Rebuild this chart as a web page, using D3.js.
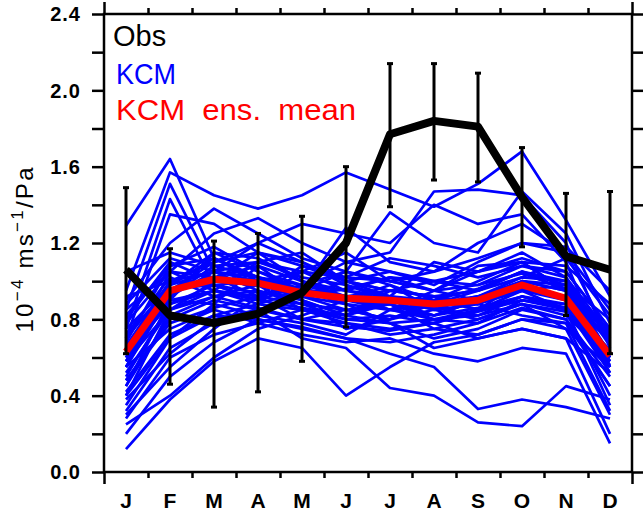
<!DOCTYPE html>
<html>
<head>
<meta charset="utf-8">
<script src="https://cdn.jsdelivr.net/npm/d3@7"></script>
<style>
  html, body { margin: 0; padding: 0; background: #fff; }
  svg { display: block; }
  text { font-family: "Liberation Sans", Arial, Helvetica, sans-serif; }
</style>
</head>
<body>
<svg id="chart" width="643" height="515"></svg>
<script>
// Month labels along the x axis
const months = ["J", "F", "M", "A", "M", "J", "J", "A", "S", "O", "N", "D"];

// Y-axis tick values
const yMajorTicks = [0.0, 0.4, 0.8, 1.2, 1.6, 2.0, 2.4];
const yMinorTicks = [0.2, 0.6, 1.0, 1.4, 1.8, 2.2];

// Observed monthly values and their uncertainty range
const obsValues = [1.06, 0.82, 0.78, 0.83, 0.94, 1.20, 1.77, 1.84, 1.81, 1.44, 1.13, 1.06];
const obsLow    = [0.62, 0.46, 0.34, 0.42, 0.58, 0.76, 1.39, 1.53, 1.52, 1.18, 0.82, 0.62];
const obsHigh   = [1.49, 1.17, 1.21, 1.25, 1.34, 1.60, 2.14, 2.14, 2.09, 1.70, 1.46, 1.47];

// KCM ensemble mean
const ensMean = [0.63, 0.95, 1.01, 0.99, 0.94, 0.91, 0.90, 0.88, 0.90, 0.98, 0.91, 0.61];

// Individual KCM ensemble members (J..D)
const kcmMembers = [
  [1.29, 1.64, 1.12, 1.02, 0.98, 0.95, 0.92, 0.90, 0.96, 1.05, 0.98, 0.70],
  [0.95, 1.57, 1.45, 1.38, 1.45, 1.57, 1.48, 1.39, 1.51, 1.68, 1.32, 0.92],
  [0.85, 1.51, 1.05, 1.20, 1.10, 1.00, 1.05, 0.98, 1.10, 1.20, 1.15, 0.85],
  [0.75, 1.43, 0.98, 0.90, 1.05, 1.15, 1.00, 0.95, 1.05, 1.12, 1.05, 0.75],
  [0.70, 1.35, 1.30, 1.15, 1.00, 0.90, 0.98, 0.85, 0.92, 1.02, 1.00, 0.70],
  [0.90, 1.20, 1.38, 1.25, 1.12, 1.05, 1.36, 1.20, 1.15, 1.47, 1.25, 0.78],
  [0.60, 1.05, 1.25, 1.33, 1.20, 1.10, 1.15, 1.47, 1.48, 1.45, 1.20, 0.65],
  [0.55, 0.95, 1.10, 1.20, 1.30, 1.25, 1.20, 1.40, 1.30, 1.35, 1.10, 0.55],
  [0.45, 0.90, 1.15, 1.05, 0.95, 1.28, 1.10, 1.05, 1.20, 1.30, 1.15, 0.70],
  [0.40, 0.85, 0.95, 1.10, 1.15, 1.00, 0.92, 1.10, 1.05, 1.10, 0.95, 0.60],
  [0.65, 1.00, 1.05, 0.95, 0.88, 0.85, 0.80, 0.90, 0.85, 1.00, 0.98, 0.62],
  [0.80, 1.10, 1.00, 0.98, 0.92, 0.88, 0.85, 0.82, 0.90, 0.95, 0.92, 0.68],
  [0.58, 0.92, 1.08, 1.02, 0.95, 0.90, 0.88, 0.80, 0.82, 0.92, 0.85, 0.58],
  [0.50, 0.88, 0.98, 1.00, 1.05, 0.95, 0.90, 0.85, 0.88, 0.98, 0.90, 0.52],
  [0.72, 1.02, 0.92, 0.95, 0.90, 0.82, 0.95, 0.92, 0.85, 0.90, 0.88, 0.64],
  [0.35, 0.70, 0.88, 1.08, 0.92, 0.85, 0.80, 0.88, 0.95, 1.05, 0.95, 0.55],
  [0.62, 0.98, 1.15, 1.12, 1.00, 0.95, 1.02, 0.95, 0.98, 1.08, 1.02, 0.72],
  [0.68, 1.08, 1.18, 1.05, 0.98, 0.92, 0.85, 0.92, 0.88, 0.95, 0.85, 0.55],
  [0.48, 0.80, 0.90, 0.85, 0.80, 0.78, 0.72, 0.75, 0.80, 0.88, 0.82, 0.60],
  [0.30, 0.55, 0.75, 0.92, 0.88, 0.80, 0.78, 0.70, 0.75, 0.85, 0.80, 0.50],
  [0.25, 0.40, 0.60, 0.75, 0.82, 0.90, 0.85, 0.80, 0.78, 0.90, 0.85, 0.35],
  [0.12, 0.38, 0.58, 0.70, 0.65, 0.40, 0.55, 0.68, 0.72, 0.80, 0.75, 0.30],
  [0.20, 0.50, 0.68, 0.80, 0.75, 0.70, 0.62, 0.55, 0.33, 0.38, 0.34, 0.28],
  [0.38, 0.62, 0.80, 0.85, 0.70, 0.65, 0.44, 0.40, 0.26, 0.24, 0.45, 0.38],
  [0.55, 0.75, 0.85, 0.78, 0.72, 0.68, 0.70, 0.62, 0.58, 0.65, 0.62, 0.15],
  [0.65, 0.90, 0.95, 0.88, 0.85, 0.78, 0.75, 0.78, 0.70, 0.75, 0.70, 0.20],
  [0.78, 1.05, 1.02, 0.92, 0.80, 0.85, 0.88, 0.75, 0.72, 0.80, 0.78, 0.45],
  [0.88, 1.12, 1.05, 1.00, 0.95, 1.05, 0.98, 0.90, 1.00, 1.10, 1.08, 0.88],
  [1.05, 1.15, 1.08, 1.10, 1.05, 1.02, 1.00, 1.05, 1.12, 1.20, 1.18, 0.95],
  [0.92, 1.00, 0.98, 0.90, 0.98, 1.10, 1.05, 1.00, 0.95, 1.02, 1.12, 0.82],
  [0.58, 0.95, 1.02, 1.08, 1.00, 0.92, 0.95, 1.00, 1.05, 1.15, 1.02, 0.60],
  [0.45, 0.82, 0.92, 0.98, 0.85, 0.80, 0.82, 0.78, 0.85, 0.92, 0.88, 0.58],
  [0.70, 0.98, 1.12, 1.00, 0.90, 0.75, 0.80, 0.85, 0.80, 0.88, 0.75, 0.55],
  [0.42, 0.72, 0.82, 0.88, 0.95, 0.88, 0.78, 0.65, 0.70, 0.75, 0.70, 0.52],
  [0.60, 0.90, 0.88, 0.82, 0.78, 0.72, 0.85, 0.88, 0.92, 0.95, 0.90, 0.62],
  [0.52, 0.85, 1.00, 1.15, 1.10, 0.98, 0.90, 0.82, 0.90, 1.00, 0.95, 0.58],
  [0.85, 1.05, 0.95, 0.92, 1.08, 1.02, 1.12, 1.08, 1.02, 1.08, 1.05, 0.75],
  [0.32, 0.65, 0.78, 0.85, 0.92, 1.00, 0.95, 0.92, 0.88, 0.82, 0.78, 0.32],
  [0.75, 0.98, 1.05, 1.02, 0.96, 0.92, 0.85, 0.95, 1.08, 1.10, 0.95, 0.68],
  [0.62, 0.88, 0.95, 0.90, 0.86, 0.82, 0.88, 0.82, 0.86, 0.92, 0.86, 0.52],
  [0.55, 0.92, 1.05, 1.10, 1.02, 0.98, 0.92, 0.88, 0.92, 1.00, 0.95, 0.62],
  [0.48, 0.78, 0.86, 0.92, 0.98, 1.05, 1.00, 0.95, 0.90, 0.96, 0.92, 0.70],
  [0.82, 1.08, 1.12, 1.02, 0.90, 0.82, 0.78, 0.80, 0.85, 0.95, 0.98, 0.80],
  [0.40, 0.70, 0.82, 0.80, 0.76, 0.70, 0.68, 0.72, 0.78, 0.86, 0.80, 0.45],
  [0.66, 1.00, 1.10, 1.15, 1.08, 1.00, 0.95, 0.92, 0.95, 1.05, 1.00, 0.66],
  [0.28, 0.60, 0.72, 0.78, 0.85, 0.82, 0.90, 0.86, 0.82, 0.88, 0.84, 0.40],
  [0.72, 0.96, 0.98, 0.94, 0.92, 0.96, 1.02, 1.00, 0.98, 1.04, 0.96, 0.74],
  [0.58, 0.85, 0.92, 0.86, 0.80, 0.76, 0.74, 0.78, 0.84, 0.90, 0.86, 0.56]
];

const svg = d3.select("#chart");
const plot = { left: 104, right: 632, top: 14, bottom: 472 };

const x = d3.scaleLinear().domain([-0.5, 11.5]).range([plot.left, plot.right]);
const y = d3.scaleLinear().domain([0, 2.4]).range([plot.bottom, plot.top]);

const line = d3.line().x((d, i) => x(i)).y(d => y(d));

// Ensemble members
svg.append("g")
  .selectAll("path")
  .data(kcmMembers)
  .join("path")
  .attr("d", line)
  .attr("fill", "none")
  .attr("stroke", "#0000ff")
  .attr("stroke-width", 2.7)
  .attr("stroke-linejoin", "round");

// Ensemble mean
svg.append("path")
  .attr("d", line(ensMean))
  .attr("fill", "none")
  .attr("stroke", "#ff0000")
  .attr("stroke-width", 7)
  .attr("stroke-linejoin", "round");

// Observed error bars
const bars = svg.append("g").attr("stroke", "#000").attr("stroke-width", 3);
months.forEach((m, i) => {
  bars.append("line")
    .attr("x1", x(i)).attr("x2", x(i))
    .attr("y1", y(obsLow[i])).attr("y2", y(obsHigh[i]));
  [obsLow[i], obsHigh[i]].forEach(v => {
    bars.append("line")
      .attr("x1", x(i) - 3).attr("x2", x(i) + 3)
      .attr("y1", y(v)).attr("y2", y(v));
  });
});

// Observed curve
svg.append("path")
  .attr("d", line(obsValues))
  .attr("fill", "none")
  .attr("stroke", "#000")
  .attr("stroke-width", 8)
  .attr("stroke-linejoin", "round");

// Frame
svg.append("rect")
  .attr("x", plot.left).attr("y", plot.top)
  .attr("width", plot.right - plot.left).attr("height", plot.bottom - plot.top)
  .attr("fill", "none").attr("stroke", "#000").attr("stroke-width", 2.5);

// Axes: ticks outward on all four sides
const monthEdges = d3.range(0, 13).map(k => k - 0.5);
const innerEdges = monthEdges.slice(1, -1);

const axBottom = d3.axisBottom(x).tickValues(innerEdges).tickSize(6).tickFormat("");
const axTop = d3.axisTop(x).tickValues(innerEdges).tickSize(6).tickFormat("");
const axBottomEdge = d3.axisBottom(x).tickValues([-0.5, 11.5]).tickSize(12).tickFormat("");
const axTopEdge = d3.axisTop(x).tickValues([-0.5, 11.5]).tickSize(12).tickFormat("");
const yTicks = yMajorTicks.concat(yMinorTicks);
const axLeft = d3.axisLeft(y).tickValues(yTicks).tickSize(12).tickFormat("");
const axRight = d3.axisRight(y).tickValues(yTicks).tickSize(12).tickFormat("");

function styleAxis(g) {
  g.select(".domain").remove();
  g.selectAll(".tick line").attr("stroke", "#000").attr("stroke-width", 2.5);
}
svg.append("g").attr("transform", `translate(0,${plot.bottom})`).call(axBottom).call(styleAxis);
svg.append("g").attr("transform", `translate(0,${plot.bottom})`).call(axBottomEdge).call(styleAxis);
svg.append("g").attr("transform", `translate(0,${plot.top})`).call(axTop).call(styleAxis);
svg.append("g").attr("transform", `translate(0,${plot.top})`).call(axTopEdge).call(styleAxis);
svg.append("g").attr("transform", `translate(${plot.left},0)`).call(axLeft).call(styleAxis);
svg.append("g").attr("transform", `translate(${plot.right},0)`).call(axRight).call(styleAxis);

// Y tick labels
svg.append("g")
  .selectAll("text")
  .data(yMajorTicks)
  .join("text")
  .attr("x", 81)
  .attr("y", d => y(d))
  .attr("dy", "0.36em")
  .attr("text-anchor", "end")
  .attr("font-size", 20)
  .attr("font-weight", "bold")
  .attr("letter-spacing", 1)
  .text(d => d.toFixed(1));

// Month labels
svg.append("g")
  .selectAll("text")
  .data(months)
  .join("text")
  .attr("x", (d, i) => x(i))
  .attr("y", 508)
  .attr("text-anchor", "middle")
  .attr("font-size", 21)
  .attr("font-weight", "bold")
  .text(d => d);

// Y axis title
const yt = svg.append("text")
  .attr("transform", "translate(33,250) rotate(-90)")
  .attr("text-anchor", "middle")
  .attr("font-size", 24)
  .attr("textLength", 165)
  .attr("lengthAdjust", "spacing");
yt.append("tspan").text("10");
yt.append("tspan").attr("font-size", 17).attr("dy", -10).text("\u22124");
yt.append("tspan").attr("dy", 10).text(" ms");
yt.append("tspan").attr("font-size", 17).attr("dy", -10).text("\u22121");
yt.append("tspan").attr("dy", 10).text("/Pa");

// Legend
const legend = svg.append("g").attr("font-size", 29);
legend.append("text").attr("x", 113).attr("y", 46).attr("fill", "#000").text("Obs");
legend.append("text").attr("x", 116).attr("y", 84).attr("fill", "#0000ff")
  .attr("textLength", 60).attr("lengthAdjust", "spacingAndGlyphs").text("KCM");
legend.append("text").attr("x", 116).attr("y", 120).attr("fill", "#ff0000")
  .attr("xml:space", "preserve").style("white-space", "pre")
  .attr("textLength", 240).attr("lengthAdjust", "spacingAndGlyphs")
  .text("KCM  ens.  mean");
</script>
</body>
</html>
